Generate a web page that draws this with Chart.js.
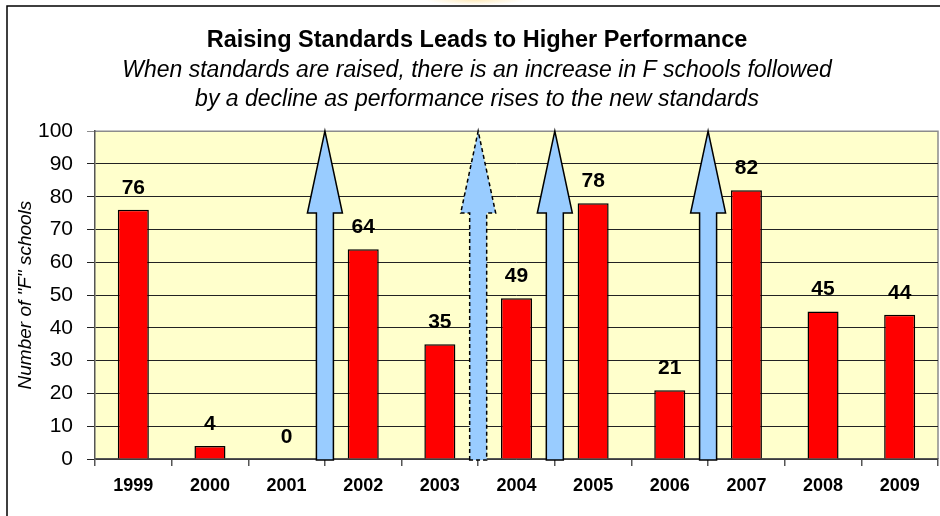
<!DOCTYPE html>
<html>
<head>
<meta charset="utf-8">
<title>Raising Standards Leads to Higher Performance</title>
<script src="https://cdn.jsdelivr.net/npm/chart.js@4.4.1/dist/chart.umd.min.js"></script>
<style>
    body { margin: 0; background: #fff; }
    canvas { display: block; }
</style>
</head>
<body>
<canvas id="fChart" width="940" height="516"></canvas>
<script>
const years = ['1999', '2000', '2001', '2002', '2003', '2004', '2005', '2006', '2007', '2008', '2009'];
const fSchools = [76, 4, 0, 64, 35, 49, 78, 21, 82, 45, 44];
const yTicks = [0, 10, 20, 30, 40, 50, 60, 70, 80, 90, 100];

// each arrow sits between this year and the next one
const arrowAfter = ['2001', '2003', '2004', '2006'];
const arrowDashed = [false, true, false, false];
const arrowHeadBase = 75;
const arrowTip = 100;

const FONT = '"Liberation Sans", Arial, sans-serif';

document.addEventListener('DOMContentLoaded', () => {
    const frame = {
        id: 'frame',
        beforeDraw(chart) {
            const { ctx, chartArea: a } = chart;
            ctx.save();
            // faint glow at the top edge
            ctx.translate(475, 0);
            ctx.scale(1, 0.1);
            const g = ctx.createRadialGradient(0, 0, 0, 0, 0, 50);
            g.addColorStop(0, 'rgba(255, 230, 170, 0.8)');
            g.addColorStop(1, 'rgba(255, 230, 170, 0)');
            ctx.fillStyle = g;
            ctx.fillRect(-55, 0, 110, 60);
            ctx.restore();

            ctx.save();
            ctx.strokeStyle = '#000';
            ctx.lineWidth = 1.5;
            ctx.strokeRect(7, 6, 950, 530);
            ctx.fillStyle = '#FFFFCC';
            ctx.fillRect(a.left, a.top, a.right - a.left, a.bottom - a.top);
            ctx.strokeStyle = '#8c8c8c';
            ctx.lineWidth = 1.5;
            ctx.beginPath();
            ctx.moveTo(a.left, a.top);
            ctx.lineTo(a.right, a.top);
            ctx.lineTo(a.right, a.bottom);
            ctx.stroke();
            ctx.restore();
        }
    };

    const arrows = {
        id: 'arrows',
        afterDatasetsDraw(chart) {
            const { ctx, scales: { x, y } } = chart;
            arrowAfter.forEach((year, i) => {
                const idx = years.indexOf(year);
                const cx = (x.getPixelForValue(idx) + x.getPixelForValue(idx + 1)) / 2;
                const yTip = y.getPixelForValue(arrowTip);
                const yHead = y.getPixelForValue(arrowHeadBase);
                const yBase = y.getPixelForValue(0) + 1;
                ctx.save();
                ctx.beginPath();
                ctx.moveTo(cx - 8.5, yBase);
                ctx.lineTo(cx - 8.5, yHead);
                ctx.lineTo(cx - 17.5, yHead);
                ctx.lineTo(cx, yTip);
                ctx.lineTo(cx + 17.5, yHead);
                ctx.lineTo(cx + 8.5, yHead);
                ctx.lineTo(cx + 8.5, yBase);
                ctx.closePath();
                ctx.fillStyle = '#99CCFF';
                ctx.fill();
                ctx.setLineDash(arrowDashed[i] ? [4, 3] : []);
                ctx.lineWidth = 1.5;
                ctx.strokeStyle = '#000';
                ctx.stroke();
                ctx.restore();
            });
        }
    };

    const valueLabels = {
        id: 'valueLabels',
        afterDatasetsDraw(chart) {
            const { ctx } = chart;
            const meta = chart.getDatasetMeta(0);
            ctx.save();
            ctx.font = 'bold 21px ' + FONT;
            ctx.fillStyle = '#000';
            ctx.textAlign = 'center';
            ctx.textBaseline = 'middle';
            meta.data.forEach((bar, i) => {
                ctx.fillText(String(fSchools[i]), bar.x, bar.y - 22);
            });
            ctx.restore();
        }
    };

    const ctx = document.getElementById('fChart').getContext('2d');
    new Chart(ctx, {
        type: 'bar',
        data: {
            labels: years,
            datasets: [{
                label: 'Number of "F" schools',
                data: fSchools,
                backgroundColor: '#FF0000',
                borderColor: '#000',
                borderWidth: 1.5,
                barPercentage: 0.405,
                categoryPercentage: 1
            }]
        },
        options: {
            responsive: false,
            animation: false,
            devicePixelRatio: 1,
            layout: { padding: { left: 16, right: 2, top: 0, bottom: 0 } },
            scales: {
                x: {
                    grid: { drawOnChartArea: false, tickLength: 7, color: '#555', lineWidth: 1.5 },
                    border: { color: '#555', width: 1.5 },
                    ticks: { color: '#000', font: { family: FONT, size: 18, weight: 'bold' }, padding: 9, maxRotation: 0 },
                    afterFit: (s) => { s.height = 57; }
                },
                y: {
                    min: 0,
                    max: 100,
                    afterBuildTicks: (axis) => { axis.ticks = yTicks.map(v => ({ value: v })); },
                    grid: {
                        tickLength: 8,
                        color: (c) => c.tick && c.tick.value === 100 ? '#8c8c8c' : '#222',
                        lineWidth: 1
                    },
                    border: { color: '#555', width: 1.5 },
                    ticks: { color: '#000', font: { family: FONT, size: 21 }, padding: 14 },
                    title: {
                        display: true,
                        text: 'Number of "F" schools',
                        color: '#000',
                        font: { family: FONT, size: 19, style: 'italic', lineHeight: 1 },
                        padding: { top: 0, bottom: 0 }
                    },
                    afterFit: (s) => { s.width = 79; }
                }
            },
            plugins: {
                legend: { display: false },
                tooltip: { enabled: false },
                title: {
                    display: true,
                    text: 'Raising Standards Leads to Higher Performance',
                    color: '#000',
                    font: { family: FONT, size: 23.5, weight: 'bold', lineHeight: 1.2 },
                    padding: { top: 26, bottom: 2 }
                },
                subtitle: {
                    display: true,
                    text: [
                        'When standards are raised, there is an increase in F schools followed',
                        'by a decline as performance rises to the new standards'
                    ],
                    color: '#000',
                    font: { family: FONT, size: 23, style: 'italic', lineHeight: 1.26 },
                    padding: { top: 0, bottom: 17 }
                }
            }
        },
        plugins: [frame, arrows, valueLabels]
    });
});
</script>
</body>
</html>
